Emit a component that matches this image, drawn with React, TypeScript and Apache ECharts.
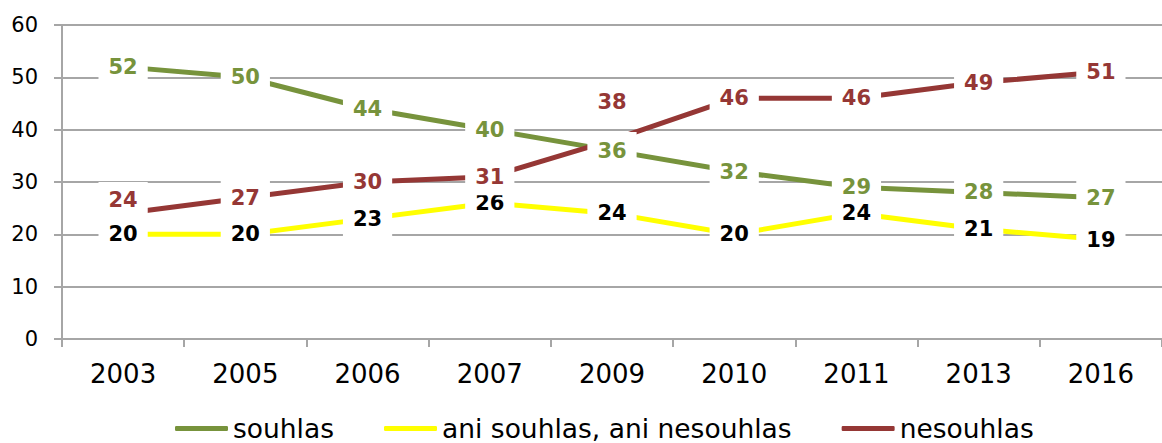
import React, { useEffect, useRef } from "react";
import * as echarts from "echarts";

const categories = ["2003", "2005", "2006", "2007", "2009", "2010", "2011", "2013", "2016"];
const souhlas = [52, 50, 44, 40, 36, 32, 29, 28, 27];
const aniSouhlas = [20, 20, 23, 26, 24, 20, 24, 21, 19];
const nesouhlas = [24, 27, 30, 31, 38, 46, 46, 49, 51];
const yTicks = { min: 0, max: 60, interval: 10 };

const seriesDefs = [
  { name: "souhlas", data: souhlas, color: "#77933C", labelColor: "#77933C" },
  { name: "ani souhlas, ani nesouhlas", data: aniSouhlas, color: "#FFFF00", labelColor: "#000000" },
  { name: "nesouhlas", data: nesouhlas, color: "#953735", labelColor: "#953735" },
];

// label vertical nudges (px) for specific points of the "nesouhlas" series
const labelNudge: Record<string, Record<number, number>> = {
  nesouhlas: { 0: -13, 4: -38 },
};

export default function App() {
  const ref = useRef<HTMLDivElement>(null);
  useEffect(() => {
    if (!ref.current) return;
    const chart = echarts.init(ref.current, null, { renderer: "svg" });
    const gray = "#A6A6A6";
    const lineSeries = seriesDefs.map((s) => ({
      name: s.name,
      type: "line",
      data: s.data,
      showSymbol: false,
      symbol: "none",
      lineStyle: { color: s.color, width: 5, cap: "butt" },
      itemStyle: { color: s.color },
      z: 2,
    }));
    const labelSeries = seriesDefs.map((s) => ({
      name: s.name + "__labels",
      type: "scatter",
      data: s.data.map((v, i) => {
        const nudge = labelNudge[s.name]?.[i];
        return nudge !== undefined ? { value: v, label: { offset: [0, nudge] } } : v;
      }),
      symbolSize: 1,
      itemStyle: { color: "rgba(0,0,0,0)", opacity: 1 },
      silent: true,
      z: 10,
      label: {
        show: true,
        position: "inside",
        color: s.labelColor,
        opacity: 1,
        fontFamily: "DejaVu Sans",
        fontWeight: "bold",
        fontSize: 21,
        backgroundColor: "#FFFFFF",
        padding: [8, 10],
      },
    }));
    chart.setOption({
      animation: false,
      backgroundColor: "#FFFFFF",
      grid: { left: 62, top: 25, width: 1111, height: 314 },
      legend: {
        data: seriesDefs.map((s) => ({
          name: s.name,
          icon: "roundRect",
          itemStyle: { color: s.color },
        })),
        left: 175,
        top: 415,
        padding: 0,
        itemWidth: 53,
        itemHeight: 5,
        itemGap: 50,
        textStyle: { fontFamily: "DejaVu Sans", fontSize: 26.5, lineHeight: 24, color: "#000" },
      },
      xAxis: {
        type: "category",
        data: categories,
        boundaryGap: true,
        axisLine: { lineStyle: { color: gray, width: 2 } },
        axisTick: { show: true, length: 8, lineStyle: { color: gray, width: 2 } },
        axisLabel: { fontFamily: "DejaVu Sans", fontSize: 26, color: "#000", margin: 22 },
        splitLine: { show: false },
      },
      yAxis: {
        type: "value",
        min: yTicks.min,
        max: yTicks.max,
        interval: yTicks.interval,
        axisLine: { show: true, lineStyle: { color: gray, width: 2 } },
        axisTick: { show: true, length: 8, lineStyle: { color: gray, width: 2 } },
        axisLabel: { fontFamily: "DejaVu Sans", fontSize: 21, color: "#000", margin: 24 },
        splitLine: { show: true, lineStyle: { color: gray, width: 2 } },
      },
      series: [...lineSeries, ...labelSeries],
    });
    return () => chart.dispose();
  }, []);
  return (
    <div
      ref={ref}
      style={{ position: "fixed", left: 0, top: 0, width: 1162, height: 443 }}
    />
  );
}
